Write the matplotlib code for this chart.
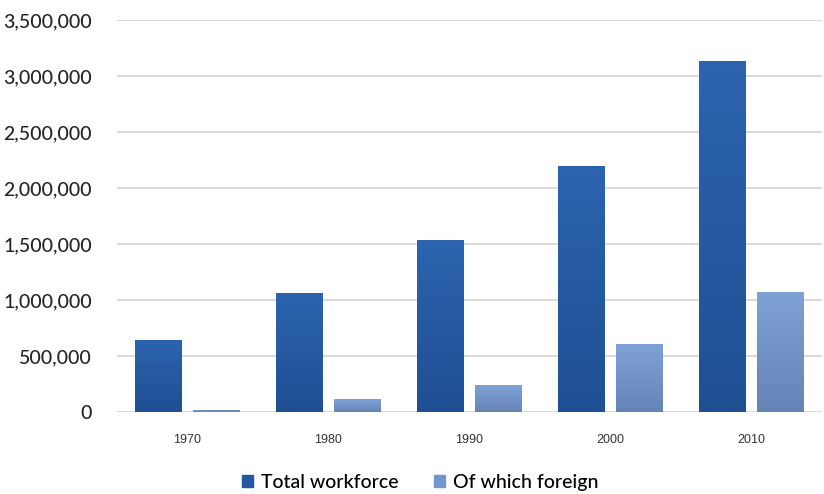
import numpy as np
import matplotlib
matplotlib.use("Agg")
import matplotlib.pyplot as plt
from matplotlib.colors import LinearSegmentedColormap
from matplotlib.patches import Patch
from matplotlib.ticker import FuncFormatter

# =========================
# Data
# =========================
years = ["1970", "1980", "1990", "2000", "2010"]
total_workforce = [645000, 1065000, 1535000, 2195000, 3135000]
foreign_workforce = [18000, 116000, 241000, 607000, 1075000]
y_ticks = [0, 500000, 1000000, 1500000, 2000000, 2500000, 3000000, 3500000]

# =========================
# Figure
# =========================
fig = plt.figure(figsize=(8.24, 4.94), dpi=100)
ax = fig.add_axes([0.142, 0.166, 0.855, 0.7935])

x = np.arange(len(years))
w = 0.333
off = 0.206

total_cmap = LinearSegmentedColormap.from_list("t", ["#1f4f93", "#2c64b0"])
foreign_cmap = LinearSegmentedColormap.from_list("f", ["#6584b6", "#7fa2d6"])


def gradient_bars(xs, vals, cmap):
    bars = ax.bar(xs, vals, width=w, color="none", edgecolor="none", zorder=3)
    for b in bars:
        x0, y0 = b.get_x(), b.get_y()
        x1, y1 = x0 + b.get_width(), y0 + b.get_height()
        grad = np.linspace(0, 1, 256).reshape(-1, 1)
        im = ax.imshow(grad, cmap=cmap, origin="lower", aspect="auto",
                       extent=[x0, x1, y0, y1], zorder=3)
        im.set_clip_path(b)
    return bars


gradient_bars(x - off, total_workforce, total_cmap)
gradient_bars(x + off, foreign_workforce, foreign_cmap)

ax.set_xlim(-0.5, len(years) - 0.5)
ax.set_ylim(0, 3500000)
ax.set_yticks(y_ticks)
ax.yaxis.set_major_formatter(FuncFormatter(lambda v, p: f"{int(v):,}"))
ax.set_xticks(x)
ax.set_xticklabels(years, fontsize=9, family="Liberation Sans", color="#333333")
for lab in ax.get_yticklabels():
    lab.set_family("Lato")
    lab.set_fontsize(14)
    lab.set_weight("medium")
    lab.set_color("#262626")

ax.tick_params(axis="both", length=0)
ax.tick_params(axis="y", pad=18)
ax.tick_params(axis="x", pad=16)
ax.grid(axis="y", color="#d9d2cf", linewidth=1.2, zorder=0)
ax.set_axisbelow(True)
for s in ax.spines.values():
    s.set_visible(False)

handles = [Patch(color="#2458a3", label="Total workforce"),
           Patch(color="#7396cc", label="Of which foreign")]
fig.legend(handles=handles, loc="center", bbox_to_anchor=(0.51, 0.024),
           ncol=2, frameon=False, handlelength=0.6, handleheight=0.6,
           handletextpad=0.4, columnspacing=1.8,
           prop={"family": "Lato", "size": 14, "weight": "medium"})

fig.savefig("out.png", dpi=100)
